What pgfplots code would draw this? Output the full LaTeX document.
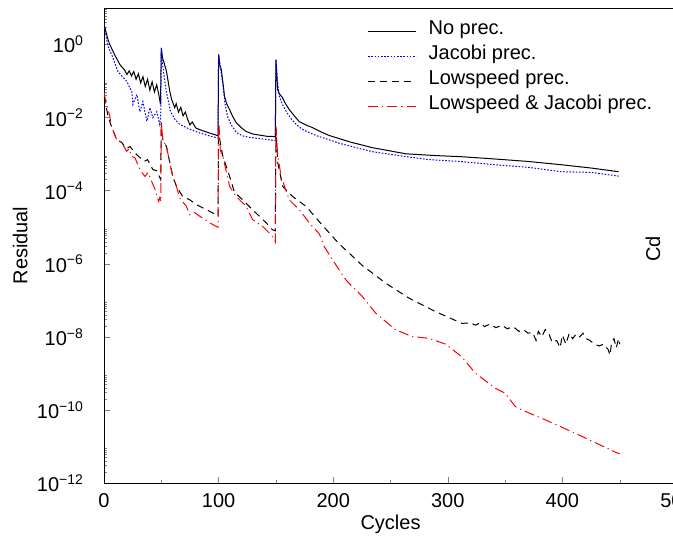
\documentclass[border=0pt]{standalone}
\usepackage{pgfplots}
\pgfplotsset{compat=1.18}
\usepackage{fontspec}
\setmainfont{Liberation Sans}
\begin{document}
\begin{tikzpicture}
\useasboundingbox (0,0) rectangle (336.5pt,272pt);
\clip (0,0) rectangle (336.5pt,272pt);
\begin{axis}[
  scale only axis, width=286.5pt, height=237.5pt,
  at={(52pt,30.5pt)}, anchor=south west,
  ymode=log, xmin=0, xmax=500, ymin=1e-12, ymax=1e1,
  xtick={0,100,200,300,400,500}, minor xtick={50,150,250,350,450},
  ytick={1e-12,1e-10,1e-8,1e-6,1e-4,1e-2,1},
  yticklabels={10\textsuperscript{−12},10\textsuperscript{−10},10\textsuperscript{−8},10\textsuperscript{−6},10\textsuperscript{−4},10\textsuperscript{−2},10\textsuperscript{0}},
  minor ytick={2e-12,3e-12,4e-12,5e-12,6e-12,7e-12,8e-12,9e-12,
               2e-10,3e-10,4e-10,5e-10,6e-10,7e-10,8e-10,9e-10,
               2e-8,3e-8,4e-8,5e-8,6e-8,7e-8,8e-8,9e-8,
               2e-6,3e-6,4e-6,5e-6,6e-6,7e-6,8e-6,9e-6,
               2e-4,3e-4,4e-4,5e-4,6e-4,7e-4,8e-4,9e-4,
               2e-2,3e-2,4e-2,5e-2,6e-2,7e-2,8e-2,9e-2,
               2,3,4,5,6,7,8,9},
  tick align=inside, xtick pos=left, ytick pos=left,
  major tick length=3pt, minor tick length=1.5pt,
  /pgf/number format/assume math mode=true,
  /pgf/number format/1000 sep={},
  yticklabel style={xshift=-6.5pt},
  xticklabel style={yshift=-1.5pt},
  xlabel={Cycles}, ylabel={Residual},
  xlabel style={at={(axis description cs:0.5,-0.088)}, anchor=center},
  ylabel style={at={(axis description cs:-0.146,0.5)}, anchor=center},
  no markers,
  legend style={at={(0.4594,0.977)}, anchor=north west, draw=none, fill=none,
    inner sep=0pt, row sep=0pt,
    nodes={inner sep=0pt, text height=7.5pt, text depth=5pt},
    /tikz/every odd column/.append style={column sep=6pt}},
  legend cell align=left,
  legend image code/.code={\draw[#1] (0pt,0pt) -- (24pt,0pt);},
]
\addplot[black, line width=0.5pt] coordinates {
(0,3.55)(3.5,1.38)(5,1.0)(7.8,0.661)(9.6,0.501)(13.9,0.282)(18,0.1995)(20,0.151)(22,0.191)(24,0.138)(26,0.182)(28,0.112)(30,0.158)(32,0.0891)(34,0.132)(36,0.0708)(38,0.112)(40,0.0562)(42,0.0955)(44,0.0501)(46,0.0794)(48,0.0398)(49.3,0.0229)
(50,0.813)(51,0.447)(54.5,0.186)(57.4,0.0525)(59,0.0316)(61.7,0.0186)(63,0.024)(65,0.0141)(67,0.0191)(69,0.0112)(71,0.0141)(73,0.00891)(75,0.00631)(77,0.00759)(80,0.00525)(83.5,0.00468)(90,0.00398)(98,0.00331)(99.5,0.00316)
(100,0.537)(101,0.282)(102.3,0.209)(104,0.0794)(105.2,0.038)(107,0.024)(109.6,0.0166)(112,0.0112)(115.4,0.00724)(120,0.00525)(124,0.00417)(130,0.00355)(136,0.00331)(142,0.00309)(149.5,0.00302)
(150,0.389)(150.8,0.158)(151.5,0.0589)(153,0.0447)(155.7,0.0355)(158,0.0251)(161.7,0.0166)(166,0.0112)(170.4,0.00776)(176,0.00631)(181.7,0.00537)(190,0.00398)(196.5,0.00324)(215,0.00214)(234,0.00151)(263.5,0.00102)(290,0.000912)(312,0.000851)(340,0.000741)(370,0.000631)(399,0.000513)(425,0.000417)(449,0.000331)
};
\addlegendentry{No prec.}
\addplot[blue, line width=0.5pt, dash pattern=on 0.8pt off 0.8pt] coordinates {
(0,3.55)(3.5,0.891)(7.8,0.437)(12.2,0.182)(16,0.132)(20,0.0977)(22,0.0708)(24.3,0.0513)(25.2,0.0229)(28.7,0.0427)(31.3,0.0145)(33.9,0.0275)(37.4,0.00794)(40,0.0186)(42.6,0.01)(46.1,0.0145)(48.7,0.00646)(49.5,0.012)
(50,0.813)(51,0.316)(53,0.1)(54.5,0.0501)(58,0.0148)(62,0.00891)(66,0.00661)(75,0.00479)(83.5,0.0038)(92,0.00316)(99.5,0.00275)
(100,0.537)(101,0.316)(103.5,0.0912)(105.5,0.0251)(107.8,0.0107)(111,0.00631)(115.7,0.00389)(121,0.00316)(127,0.00288)(137,0.00263)(149.5,0.00234)
(150,0.389)(151,0.126)(153,0.038)(156,0.0219)(159.1,0.0145)(163,0.00955)(167.8,0.00646)(173,0.00479)(179,0.00389)(186,0.00316)(193.9,0.00263)(205,0.002)(220,0.00151)(234,0.00117)(255,0.000933)(283.5,0.000708)(310,0.000631)(341.7,0.000513)(370,0.000437)(399,0.000331)(425,0.000316)(449,0.000251)
};
\addlegendentry{Jacobi prec.}
\addplot[black, line width=0.5pt, dash pattern=on 3.5pt off 2.5pt] coordinates {
(0,0.038)(3.5,0.011)(6.5,0.00575)(11,0.00251)(15.4,0.00209)(19.7,0.00141)(22.6,0.00162)(28.4,0.000977)(35,0.000631)(38,0.000708)(42.6,0.00038)(46,0.00035)(48.7,0.000229)(49.5,0.0002)
(50,0.00724)(51.3,0.00251)(54.5,0.00162)(57.4,0.000589)(60,0.000245)(63.2,0.000132)(68.7,6.92e-5)(74.8,5.62e-5)(80.6,4.17e-5)(89.3,3.02e-5)(98,2.19e-5)(99.5,2.0e-5)
(100,0.00708)(101,0.0025)(103.7,0.000871)(109.6,0.000245)(113.9,8.91e-5)(121.1,5.62e-5)(129.6,3.02e-5)(141.5,1.32e-5)(147,8.51e-6)(149.5,8.0e-6)
(150,0.00562)(151.6,0.000589)(155.9,0.000132)(164.6,6.92e-5)(176.3,3.72e-5)(190.7,1.12e-5)(205,3.55e-6)(225.5,8.91e-7)(245.8,2.95e-7)(266,1.15e-7)(289.3,4.90e-8)(312.4,2.34e-8)
(320,2.40e-8)(324,2.09e-8)(328,2.40e-8)(332,1.91e-8)(337,2.24e-8)(342,1.78e-8)(347,2.09e-8)(352,1.66e-8)(357,1.91e-8)(362,1.41e-8)(366,1.58e-8)(370,1.26e-8)(374,1.32e-8)(377,7.94e-9)(379,1.41e-8)(382,1.0e-8)(385,1.58e-8)(388,1.26e-8)(391,7.08e-9)(395,7.94e-9)(398,5.01e-9)(400,1.12e-8)(403,6.31e-9)(406,1.26e-8)(409,8.91e-9)(412,1.20e-8)(415,1.0e-8)(418,1.26e-8)(421,8.91e-9)(424,7.94e-9)(428,6.31e-9)(432,5.62e-9)(436,6.31e-9)(440,4.47e-9)(441.5,3.16e-9)(443,7.08e-9)(445,8.91e-9)(447,5.01e-9)(449,8.91e-9)(450,6.31e-9)
};
\addlegendentry{Lowspeed prec.}
\addplot[red, line width=0.5pt, dash pattern=on 5pt off 2pt on 0.6pt off 2pt] coordinates {
(0,0.0479)(2,0.0251)(5,0.011)(6.5,0.00575)(11,0.00251)(15.4,0.00209)(19.7,0.0012)(22,0.00141)(24,0.000871)(27,0.000794)(31.3,0.00038)(35.7,0.000245)(38.5,0.000316)(41.5,0.000182)(44.6,0.000107)(47.6,5.13e-5)(48.7,6.46e-5)(49.5,5.01e-5)
(50,0.00724)(51.3,0.00251)(54.5,0.00162)(57.4,0.000589)(60,0.000245)(63.2,0.000132)(66,6.31e-5)(71.9,3.72e-5)(74.8,2.19e-5)(79.1,2.51e-5)(83.5,2.0e-5)(92.2,1.32e-5)(98,1.05e-5)(99.5,1.0e-5)
(100,0.00708)(101.5,0.00126)(103.7,0.000871)(109.6,0.000132)(115.4,6.92e-5)(124.1,3.72e-5)(129.6,1.62e-5)(138.5,1.05e-5)(145.8,6.17e-6)(148.7,4.57e-6)(149.5,3.98e-6)
(150,0.00562)(151.5,0.001)(154.5,0.000245)(161.7,5.62e-5)(170.4,3.02e-5)(179.1,1.32e-5)(187.8,6.61e-6)(192.2,2.95e-6)(199.4,1.29e-6)(211,3.63e-7)(225.5,1.26e-7)(237,4.47e-8)(254.5,1.55e-8)(269,1.02e-8)(283.5,9.12e-9)(298,6.31e-9)(312,2.88e-9)(324,1.02e-9)(341.5,3.89e-10)(350,2.88e-10)(359,1.23e-10)(364.6,1.0e-10)(385,5.37e-11)(414,2.09e-11)(447.2,6.76e-12)(450,6.31e-12)
};
\addlegendentry{Lowspeed \& Jacobi prec.}
\end{axis}
\node[rotate=90] at (326.5pt,147.5pt) {Cd};
\end{tikzpicture}
\end{document}
